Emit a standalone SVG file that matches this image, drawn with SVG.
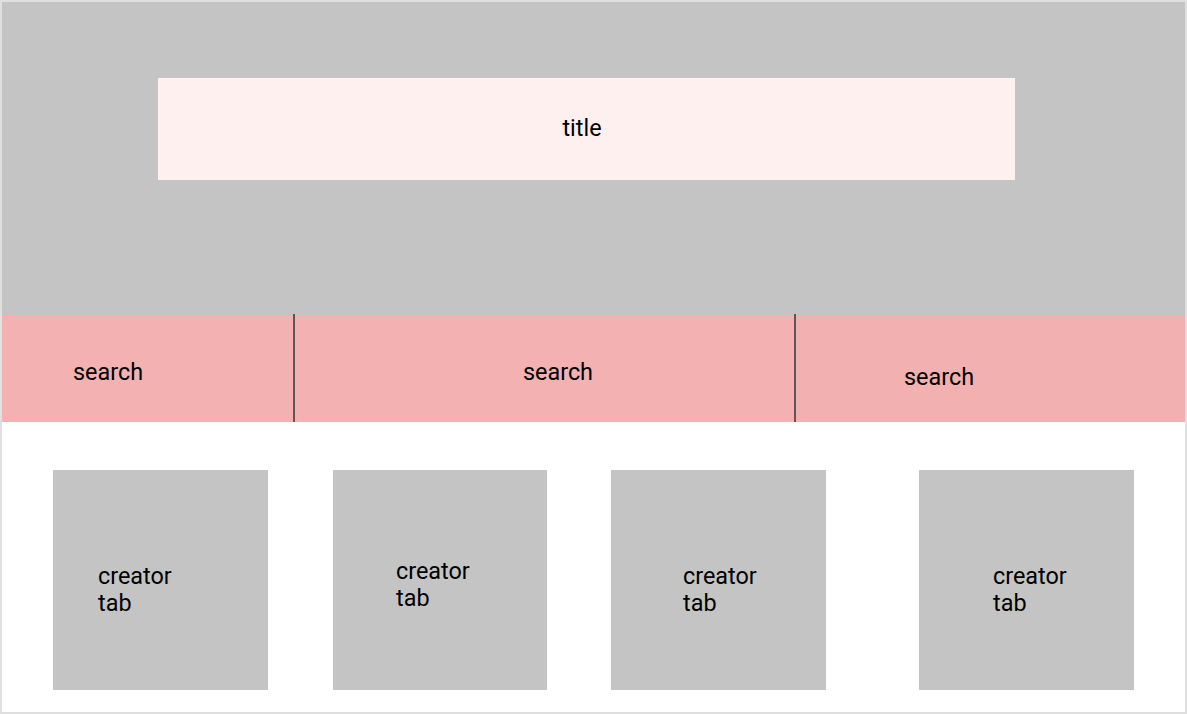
<svg xmlns="http://www.w3.org/2000/svg" width="1187" height="715" viewBox="0 0 1187 715">
<style>
.t{font-family:Roboto,"Liberation Sans",sans-serif;font-size:23.4px;fill:#000}
.box{fill:#c4c4c4}
.pink{fill:#f3b1b2}
.sep{stroke:#2a2a2a;stroke-width:1.4}
</style>
<rect x="0" y="0" width="1187" height="715" fill="#fff"/>
<rect x="1" y="1" width="1185" height="712" fill="#fff" stroke="#e0e0e0" stroke-width="2"/>
<g id="header">
<rect x="2" y="2" width="1183" height="313" class="box"/>
</g>
<g id="title">
<rect x="158" y="78" width="857" height="102" fill="#fff0f0"/>
<text class="t" x="582" y="136" text-anchor="middle">title</text>
</g>
<g id="search1">
<rect x="2" y="315" width="292" height="107" class="pink"/>
<text class="t" x="73" y="380">search</text>
</g>
<g id="search2">
<rect x="294" y="315" width="501" height="107" class="pink"/>
<text class="t" x="558" y="380" text-anchor="middle">search</text>
</g>
<g id="search3">
<rect x="795" y="315" width="390" height="107" fill="#f2b0b1"/>
<text class="t" x="904" y="385">search</text>
</g>
<g id="connectors">
<line x1="294" y1="314" x2="294" y2="422" class="sep"/>
<line x1="795" y1="314" x2="795" y2="422" class="sep"/>
</g>
<g id="creator1">
<rect x="53" y="470" width="215" height="220" class="box"/>
<text class="t" x="98" y="584">creator<tspan x="98" dy="27">tab</tspan></text>
</g>
<g id="creator2">
<rect x="333" y="470" width="214" height="220" class="box"/>
<text class="t" x="396" y="579">creator<tspan x="396" dy="27">tab</tspan></text>
</g>
<g id="creator3">
<rect x="611" y="470" width="215" height="220" class="box"/>
<text class="t" x="683" y="584">creator<tspan x="683" dy="27">tab</tspan></text>
</g>
<g id="creator4">
<rect x="919" y="470" width="215" height="220" class="box"/>
<text class="t" x="993" y="584">creator<tspan x="993" dy="27">tab</tspan></text>
</g>
</svg>
